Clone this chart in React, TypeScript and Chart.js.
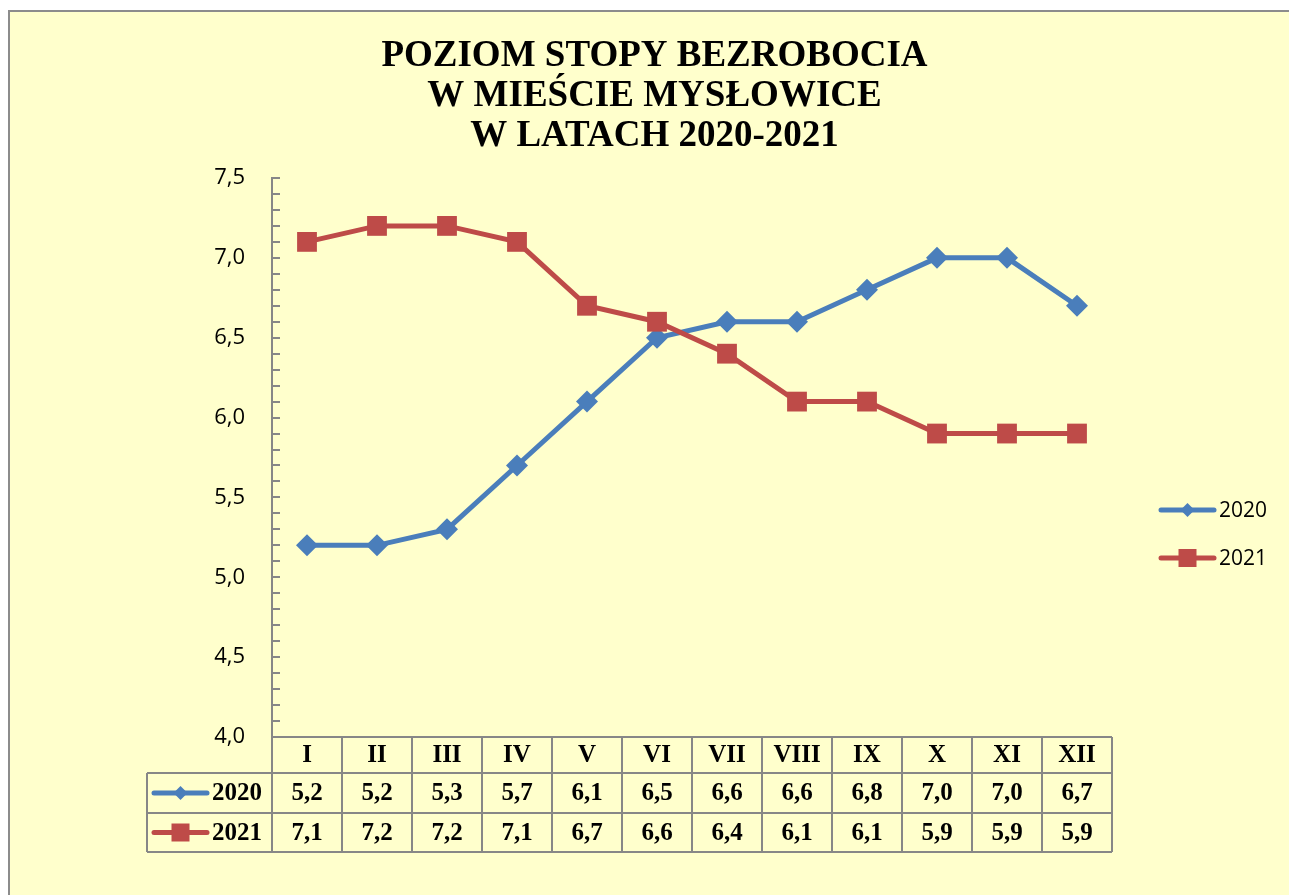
import React, { useEffect, useRef } from "react";
import { Chart, registerables } from "chart.js";

Chart.register(...registerables);

const TITLE_LINES = ["POZIOM STOPY BEZROBOCIA", "W MIEŚCIE MYSŁOWICE", "W LATACH 2020-2021"];
const MONTHS = ["I", "II", "III", "IV", "V", "VI", "VII", "VIII", "IX", "X", "XI", "XII"];
const SERIES_NAMES = ["2020", "2021"];
const VALUES_2020 = [5.2, 5.2, 5.3, 5.7, 6.1, 6.5, 6.6, 6.6, 6.8, 7.0, 7.0, 6.7];
const VALUES_2021 = [7.1, 7.2, 7.2, 7.1, 6.7, 6.6, 6.4, 6.1, 6.1, 5.9, 5.9, 5.9];
const Y_MIN = 4;
const Y_MAX = 7.5;
const Y_STEP = 0.5;
const Y_MINOR = 0.1;

const BLUE = "#4A7EBB";
const RED = "#BE4B48";
const GRAY = "#878787";
const BG = "#FFFFCC";
const SERIF = "'Liberation Serif', 'Times New Roman', serif";
const SANS = "'Open Sans', 'Noto Sans', 'Liberation Sans', sans-serif";

const fmt = (v: number) => v.toFixed(1).replace(".", ",");

function drawMarker(ctx: CanvasRenderingContext2D, kind: string, x: number, y: number, s: number, color: string) {
  ctx.save();
  ctx.fillStyle = color;
  ctx.beginPath();
  if (kind === "diamond") {
    ctx.moveTo(x, y - s);
    ctx.lineTo(x + s, y);
    ctx.lineTo(x, y + s);
    ctx.lineTo(x - s, y);
    ctx.closePath();
  } else {
    ctx.rect(x - s, y - s, 2 * s, 2 * s);
  }
  ctx.fill();
  ctx.restore();
}

function drawLegendSample(ctx: CanvasRenderingContext2D, x0: number, x1: number, y: number, color: string, kind: string, s: number) {
  ctx.save();
  ctx.strokeStyle = color;
  ctx.lineWidth = 5;
  ctx.lineCap = "round";
  ctx.beginPath();
  ctx.moveTo(x0, y);
  ctx.lineTo(x1, y);
  ctx.stroke();
  ctx.restore();
  drawMarker(ctx, kind, (x0 + x1) / 2, y, s, color);
}

const framePlugin = {
  id: "frame",
  beforeDraw(chart: any) {
    const { ctx, width, height } = chart;
    ctx.save();
    ctx.fillStyle = "#ffffff";
    ctx.fillRect(0, 0, width, height);
    ctx.fillStyle = BG;
    ctx.fillRect(8, 10, width - 8, height - 10);
    ctx.strokeStyle = "#8c8c8c";
    ctx.lineWidth = 2;
    ctx.beginPath();
    ctx.moveTo(9, height);
    ctx.lineTo(9, 11);
    ctx.lineTo(width, 11);
    ctx.stroke();
    ctx.restore();
  },
};

const decorPlugin = {
  id: "decor",
  afterDraw(chart: any) {
    const { ctx, chartArea } = chart;
    const xs = chart.scales.x;
    const ys = chart.scales.y;
    const L = chartArea.left;
    const R = chartArea.right;
    const B = chartArea.bottom;

    // title
    ctx.save();
    ctx.fillStyle = "#000";
    ctx.font = `bold 37px ${SERIF}`;
    ctx.textAlign = "center";
    ctx.textBaseline = "alphabetic";
    const cx = (L + R) / 2 - 37.5;
    TITLE_LINES.forEach((t, i) => ctx.fillText(t, cx, 66 + i * 40));
    ctx.restore();

    // minor ticks on y axis
    ctx.save();
    ctx.strokeStyle = GRAY;
    ctx.lineWidth = 2;
    const n = Math.round((Y_MAX - Y_MIN) / Y_MINOR);
    for (let i = 0; i <= n; i++) {
      const y = Math.round(ys.getPixelForValue(Y_MIN + i * Y_MINOR));
      ctx.beginPath();
      ctx.moveTo(L, y);
      ctx.lineTo(L + 8, y);
      ctx.stroke();
    }
    ctx.restore();

    // data table
    const colW = (R - L) / MONTHS.length;
    const legL = L - 125;
    const rows = [B, B + 36, B + 76, B + 115];
    ctx.save();
    ctx.strokeStyle = GRAY;
    ctx.lineWidth = 2;
    ctx.beginPath();
    ctx.moveTo(L, rows[0]);
    ctx.lineTo(R, rows[0]);
    for (let r = 1; r < rows.length; r++) {
      ctx.moveTo(legL, rows[r]);
      ctx.lineTo(R, rows[r]);
    }
    ctx.moveTo(legL, rows[1]);
    ctx.lineTo(legL, rows[3]);
    for (let i = 0; i < MONTHS.length; i++) {
      const xl = xs.getPixelForValue(i) - colW / 2;
      ctx.moveTo(xl, rows[0]);
      ctx.lineTo(xl, rows[3]);
    }
    ctx.moveTo(R, rows[0]);
    ctx.lineTo(R, rows[3]);
    ctx.stroke();

    ctx.fillStyle = "#000";
    ctx.font = `bold 25px ${SERIF}`;
    ctx.textAlign = "center";
    ctx.textBaseline = "middle";
    const series = [VALUES_2020, VALUES_2021];
    MONTHS.forEach((m, i) => {
      const x = xs.getPixelForValue(i);
      ctx.fillText(m, x, (rows[0] + rows[1]) / 2 + 1);
      series.forEach((vals, s) => {
        ctx.fillText(fmt(vals[i]), x, (rows[s + 1] + rows[s + 2]) / 2 + 1);
      });
    });
    // table legend
    const kinds = ["diamond", "square"];
    const sizes = [7, 9];
    const colors = [BLUE, RED];
    SERIES_NAMES.forEach((name, s) => {
      const y = (rows[s + 1] + rows[s + 2]) / 2;
      drawLegendSample(ctx, legL + 7, legL + 60, y, colors[s], kinds[s], sizes[s]);
      ctx.fillStyle = "#000";
      ctx.font = `bold 25px ${SERIF}`;
      ctx.textAlign = "left";
      ctx.fillText(name, legL + 65, y + 1);
    });

    // right legend
    SERIES_NAMES.forEach((name, s) => {
      const y = 510 + s * 48;
      drawLegendSample(ctx, R + 49, R + 102, y, colors[s], kinds[s], sizes[s]);
      ctx.fillStyle = "#000";
      ctx.font = `21px ${SANS}`;
      ctx.textAlign = "left";
      ctx.textBaseline = "middle";
      ctx.fillText(name, R + 107, y + 1);
    });
    ctx.restore();
  },
};

export default function App() {
  const ref = useRef<HTMLCanvasElement | null>(null);
  useEffect(() => {
    if (!ref.current) return;
    const chart = new Chart(ref.current, {
      type: "line",
      data: {
        labels: MONTHS,
        datasets: [
          {
            label: SERIES_NAMES[0],
            data: VALUES_2020,
            borderColor: BLUE,
            backgroundColor: BLUE,
            borderWidth: 5,
            pointStyle: "rectRot",
            pointRadius: 11,
            pointBorderWidth: 0,
            pointBackgroundColor: BLUE,
            tension: 0,
            order: 1,
          },
          {
            label: SERIES_NAMES[1],
            data: VALUES_2021,
            borderColor: RED,
            backgroundColor: RED,
            borderWidth: 5,
            pointStyle: "rect",
            pointRadius: 14,
            pointBorderWidth: 0,
            pointBackgroundColor: RED,
            tension: 0,
            order: 0,
          },
        ],
      },
      options: {
        animation: false,
        responsive: false,
        events: [],
        layout: { padding: { top: 178, left: 212, right: 177, bottom: 158 } },
        plugins: {
          legend: { display: false },
          title: { display: false },
          tooltip: { enabled: false },
        },
        scales: {
          x: {
            type: "category",
            display: false,
            offset: true,
          },
          y: {
            min: Y_MIN,
            max: Y_MAX,
            afterFit: (scale: any) => {
              scale.width = 60;
            },
            grid: { display: false, drawTicks: false },
            border: { display: true, color: GRAY, width: 2 },
            ticks: {
              stepSize: Y_STEP,
              padding: 27,
              color: "#000",
              font: { family: SANS, size: 22 },
              callback: (v: any) => fmt(Number(v)),
            },
          },
        },
      },
      plugins: [framePlugin, decorPlugin],
    });
    return () => chart.destroy();
  }, []);
  return (
    <canvas
      ref={ref}
      width={1289}
      height={895}
      style={{ position: "fixed", left: 0, top: 0, display: "block" }}
    />
  );
}
